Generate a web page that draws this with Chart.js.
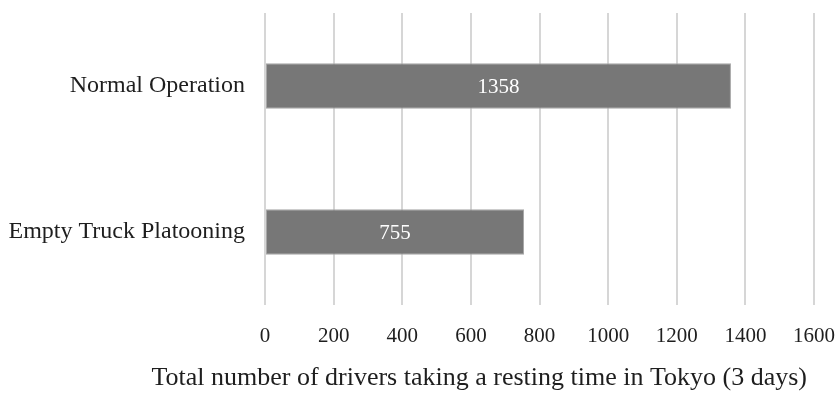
<!DOCTYPE html>
<html>
<head>
<meta charset="utf-8">
<script src="https://cdn.jsdelivr.net/npm/chart.js@4"></script>
<style>
  html, body { margin: 0; padding: 0; background: #fff; }
  #wrap { width: 839px; height: 394px; }
</style>
</head>
<body>
<div id="wrap"><canvas id="chart" width="839" height="394"></canvas></div>
<script>
const categorias = ["Normal Operation", "Empty Truck Platooning"];
const valores = [1358, 755];
const tituloEjeX = "Total number of drivers taking a resting time in Tokyo (3 days)";

const familia = "'Liberation Serif', 'Times New Roman', serif";

// etiquetas blancas en el centro de cada barra + título del eje x
const etiquetasBarras = {
  id: "etiquetasBarras",
  afterDatasetsDraw(chart) {
    const ctx = chart.ctx;
    const meta = chart.getDatasetMeta(0);
    ctx.save();
    ctx.fillStyle = "#ffffff";
    ctx.font = "21px " + familia;
    ctx.textAlign = "center";
    ctx.textBaseline = "middle";
    meta.data.forEach((bar, i) => {
      const cx = (bar.x + bar.base) / 2;
      ctx.fillText(String(valores[i]), cx, bar.y + 1);
    });
    // título (sin comprimir al ancho del área)
    ctx.fillStyle = "#1e1e1e";
    ctx.font = "26px " + familia;
    ctx.textAlign = "right";
    ctx.fillText(tituloEjeX, chart.chartArea.right - 7, chart.chartArea.bottom + 73);
    ctx.restore();
  },
};

new Chart(document.getElementById("chart"), {
  type: "bar",
  data: {
    labels: categorias,
    datasets: [
      {
        data: valores,
        backgroundColor: "#777777",
        borderColor: "#a6a6a6",
        borderWidth: 1,
        borderSkipped: false,
        barPercentage: 0.62,
        categoryPercentage: 0.5,
      },
    ],
  },
  options: {
    indexAxis: "y",
    responsive: false,
    animation: false,
    layout: { padding: { top: 13, right: 25, left: 0, bottom: 0 } },
    plugins: {
      legend: { display: false },
      tooltip: { enabled: false },
    },
    scales: {
      x: {
        min: 0,
        max: 1600,
        ticks: {
          stepSize: 200,
          color: "#1e1e1e",
          font: { family: familia, size: 21 },
          padding: 19,
          callback: (v) => String(v),
        },
        grid: { color: "#d6d6d6", lineWidth: 2, drawTicks: false },
        border: { display: false },
        afterFit(scale) {
          scale.height = 89;
          scale.paddingLeft = 0;
          scale.paddingRight = 0;
        },
      },
      y: {
        ticks: { color: "#1e1e1e", font: { family: familia, size: 24 }, padding: 20 },
        grid: { display: false, drawTicks: false },
        border: { display: false },
        afterFit(scale) {
          scale.width = 265;
          scale.paddingTop = 0;
          scale.paddingBottom = 0;
        },
      },
    },
  },
  plugins: [etiquetasBarras],
});
</script>
</body>
</html>
